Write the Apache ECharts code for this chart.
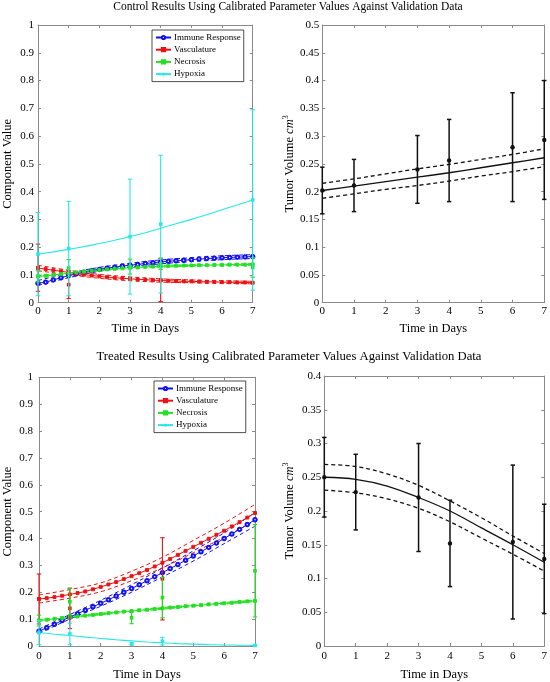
<!DOCTYPE html>
<html><head><meta charset="utf-8">
<script src="https://cdn.jsdelivr.net/npm/echarts@6/dist/echarts.min.js"></script>
<style>html,body{margin:0;padding:0;background:#fff}#c{width:550px;height:682px}</style>
</head><body><div id="c"></div>
<script>
// ---------- DATA ----------
const titleControl = 'Control Results Using Calibrated Parameter Values Against Validation Data';
const titleTreated = 'Treated Results Using Calibrated Parameter Values Against Validation Data';
const legendNames = ['Immune Response', 'Vasculature', 'Necrosis', 'Hypoxia'];
const xTicks = [0, 1, 2, 3, 4, 5, 6, 7];

const fineDays = [0,0.25,0.5,0.75,1,1.25,1.5,1.75,2,2.25,2.5,2.75,3,3.25,3.5,3.75,4,4.25,4.5,4.75,5,5.25,5.5,5.75,6,6.25,6.5,6.75,7];
const halfDays = [0,0.5,1,1.5,2,2.5,3,3.5,4,4.5,5,5.5,6,6.5,7];
const dayGrid = [0,1,2,3,4,5,6,7];

// Control - component model curves
const ctrlImmune = [0.070,0.074,0.082,0.090,0.098,0.104,0.110,0.115,0.120,0.124,0.128,0.132,0.135,0.138,0.141,0.144,0.147,0.149,0.151,0.153,0.155,0.157,0.159,0.160,0.162,0.163,0.164,0.165,0.166];
const ctrlImmuneUp = [0.080,0.106,0.127,0.142,0.154,0.162,0.169,0.173];
const ctrlImmuneLo = [0.062,0.090,0.113,0.128,0.140,0.148,0.155,0.159];
const ctrlVasc = [0.125,0.121,0.117,0.113,0.109,0.105,0.101,0.098,0.095,0.092,0.090,0.088,0.086,0.084,0.083,0.081,0.080,0.079,0.078,0.077,0.077,0.076,0.075,0.075,0.074,0.074,0.073,0.073,0.072];
const ctrlVascUp = [0.135,0.117,0.102,0.093,0.086,0.082,0.079,0.077];
const ctrlVascLo = [0.115,0.101,0.088,0.079,0.074,0.072,0.070,0.068];
const ctrlNecr = [0.095,0.097,0.100,0.103,0.106,0.109,0.112,0.115,0.118,0.120,0.122,0.124,0.126,0.127,0.129,0.130,0.131,0.132,0.133,0.134,0.134,0.135,0.135,0.136,0.136,0.137,0.137,0.137,0.138];
const ctrlNecrUp = [0.098,0.109,0.121,0.129,0.134,0.137,0.139,0.141];
const ctrlNecrLo = [0.092,0.103,0.115,0.123,0.128,0.131,0.133,0.135];
const ctrlHypox = [0.175,0.183,0.192,0.202,0.213,0.225,0.238,0.252,0.268,0.284,0.300,0.317,0.335,0.352,0.370];

// Control - component data (mean, sd)
const ctrlVascDays = [0,1,4];
const ctrlVascMean = [0.126,0.065,0.082];
const ctrlVascSd = [0.085,0.050,0.078];
const ctrlNecrDays = [0,1,3,4,7];
const ctrlNecrMean = [0.095,0.125,0.130,0.140,0.127];
const ctrlNecrSd = [0.020,0.030,0.027,0.020,0.035];
const ctrlHypDays = [0,1,3,4,7];
const ctrlHypMean = [0.175,0.195,0.238,0.283,0.370];
const ctrlHypSd = [0.150,0.170,0.207,0.248,0.325];

// Control - tumor volume
const ctrlVolFit = [0.202,0.210,0.218,0.226,0.234,0.243,0.252,0.261];
const ctrlVolUp = [0.215,0.223,0.232,0.241,0.249,0.258,0.267,0.277];
const ctrlVolLo = [0.188,0.196,0.204,0.211,0.219,0.228,0.236,0.245];
const ctrlVolDays = [0,1,3,4,6,7];
const ctrlVolMean = [0.202,0.211,0.240,0.256,0.280,0.293];
const ctrlVolSd = [0.042,0.047,0.061,0.074,0.098,0.107];

// Treated - component model curves
const trImmune = [0.055,0.068,0.081,0.095,0.108,0.120,0.133,0.146,0.159,0.172,0.186,0.200,0.214,0.228,0.243,0.258,0.273,0.288,0.303,0.319,0.335,0.351,0.367,0.383,0.400,0.417,0.434,0.452,0.470];
const trImmuneUp = [0.063,0.117,0.170,0.228,0.290,0.354,0.421,0.497];
const trImmuneLo = [0.047,0.100,0.148,0.200,0.257,0.316,0.381,0.446];
const trVasc = [0.175,0.178,0.182,0.187,0.192,0.197,0.203,0.211,0.220,0.229,0.238,0.249,0.260,0.271,0.283,0.296,0.310,0.324,0.339,0.354,0.369,0.384,0.399,0.414,0.429,0.445,0.461,0.478,0.495];
const trVascUp = [0.190,0.210,0.235,0.278,0.330,0.393,0.457,0.527];
const trVascLo = [0.160,0.178,0.202,0.243,0.291,0.347,0.405,0.466];
const trNecr = [0.095,0.098,0.101,0.104,0.107,0.110,0.113,0.116,0.119,0.122,0.125,0.128,0.130,0.133,0.135,0.138,0.140,0.143,0.145,0.148,0.150,0.152,0.155,0.157,0.159,0.161,0.164,0.166,0.168];
const trNecrUp = [0.098,0.110,0.122,0.133,0.143,0.153,0.162,0.171];
const trNecrLo = [0.092,0.104,0.116,0.127,0.137,0.147,0.156,0.165];
const trHypox = [0.050,0.044,0.039,0.033,0.028,0.023,0.019,0.015,0.012,0.009,0.007,0.005,0.004,0.003,0.002];

// Treated - component data
const trVascDays = [0,1,4];
const trVascMean = [0.175,0.140,0.250];
const trVascSd = [0.093,0.075,0.153];
const trNecrDays = [0,1,3,4,7];
const trNecrMean = [0.095,0.165,0.105,0.180,0.280];
const trNecrSd = [0.020,0.050,0.022,0.075,0.172];
const trHypDays = [0,1,3,4,7];
const trHypMean = [0.050,0.045,0.008,0.018,0.002];
const trHypSd = [0.045,0.040,0.004,0.014,0.002];

// Treated - tumor volume
const trVolFit = [0.250,0.247,0.237,0.220,0.200,0.175,0.150,0.124];
const trVolUp = [0.269,0.266,0.255,0.238,0.215,0.190,0.163,0.137];
const trVolLo = [0.231,0.227,0.218,0.204,0.184,0.160,0.136,0.111];
const trVolDays = [0,1,3,4,6,7];
const trVolMean = [0.250,0.228,0.220,0.152,0.154,0.129];
const trVolSd = [0.059,0.056,0.080,0.064,0.114,0.081];

// ---------- STYLE ----------
const FONT = '"Liberation Serif", "DejaVu Serif", serif';
const C_BLUE = '#1010f0', C_RED = '#ee1111', C_GREEN = '#22e022', C_CYAN = '#2ae6e6', C_BLACK = '#111';
const AX = '#8a8a8a';

const grids = [
  {left: 30.7, top: 25, width: 222, height: 277.7},
  {left: 322.3, top: 25, width: 222, height: 277.7},
  {left: 32.3, top: 377.3, width: 222.7, height: 276},
  {left: 324.3, top: 376, width: 223.4, height: 277.3}
];
const yCfg = [
  {max: 1, interval: 0.1, name: 'Component Value', gap: 24, margin: 4},
  {max: 0.5, interval: 0.05, name: '{t|Tumor Volume }{i|cm}{s|3}', gap: 26, margin: 3},
  {max: 1, interval: 0.1, name: 'Component Value', gap: 25, margin: 6},
  {max: 0.4, interval: 0.05, name: '{t|Tumor Volume }{i|cm}{s|3}', gap: 28, margin: 3}
];
const xCfg = [
  {labelMargin: 3, nameGap: 20},
  {labelMargin: 3, nameGap: 20},
  {labelMargin: 5, nameGap: 22},
  {labelMargin: 5, nameGap: 22}
];

const xAxes = [], yAxes = [];
grids.forEach((g, i) => {
  const base = {
    type: 'value', gridIndex: i, min: xTicks[0], max: xTicks[xTicks.length - 1], interval: 1,
    axisLine: {show: true, onZero: false, lineStyle: {color: AX, width: 1}},
    axisTick: {show: true, inside: true, length: 3, lineStyle: {color: AX}},
    splitLine: {show: false}
  };
  xAxes.push(Object.assign({}, base, {
    position: 'bottom', name: 'Time in Days', nameLocation: 'middle', nameGap: xCfg[i].nameGap,
    nameTextStyle: {fontFamily: FONT, fontSize: 12.5, color: '#000'},
    axisLabel: {show: true, margin: xCfg[i].labelMargin, fontFamily: FONT, fontSize: 11, color: '#000'}
  }));
  xAxes.push(Object.assign({}, base, {position: 'top', axisLabel: {show: false}}));
  const yb = {
    type: 'value', gridIndex: i, min: 0, max: yCfg[i].max, interval: yCfg[i].interval,
    axisLine: {show: true, onZero: false, lineStyle: {color: AX, width: 1}},
    axisTick: {show: true, inside: true, length: 3, lineStyle: {color: AX}},
    splitLine: {show: false}
  };
  yAxes.push(Object.assign({}, yb, {
    position: 'left', name: yCfg[i].name, nameLocation: 'middle', nameGap: yCfg[i].gap,
    nameTextStyle: {fontFamily: FONT, fontSize: 12.5, color: '#000',
      rich: {t: {fontFamily: FONT, fontSize: 12.5, color: '#000'},
             i: {fontFamily: FONT, fontSize: 12.5, fontStyle: 'italic', color: '#000'},
             s: {fontFamily: FONT, fontSize: 8, color: '#000', verticalAlign: 'top', lineHeight: 14}}},
    axisLabel: {show: true, margin: yCfg[i].margin, fontFamily: FONT, fontSize: 11, color: '#000'}
  }));
  yAxes.push(Object.assign({}, yb, {position: 'right', axisLabel: {show: false}}));
});

function pairs(days, vals) { return days.map((d, k) => [d, vals[k]]); }

function curve(g, name, days, vals, color, symbol, size, z) {
  return {
    type: 'line', name, xAxisIndex: 2 * g, yAxisIndex: 2 * g, data: pairs(days, vals),
    symbol, symbolSize: size, showSymbol: symbol !== 'none', smooth: false,
    lineStyle: {color, width: 1}, itemStyle: {color, borderColor: color, borderWidth: 0.9},
    emphasis: {disabled: true}, animation: false, z: z || 2
  };
}
function band(g, name, vals, color, width) {
  return {
    type: 'line', name, xAxisIndex: 2 * g, yAxisIndex: 2 * g, data: pairs(dayGrid, vals),
    symbol: 'none', smooth: 0.35,
    lineStyle: {color, width: width || 1, type: [4, 3]},
    emphasis: {disabled: true}, animation: false, z: 1
  };
}
function smoothCurve(g, name, days, vals, color, width) {
  return {
    type: 'line', name, xAxisIndex: 2 * g, yAxisIndex: 2 * g, data: pairs(days, vals),
    symbol: 'none', smooth: 0.35, lineStyle: {color, width: width || 1.1},
    itemStyle: {color}, emphasis: {disabled: true}, animation: false, z: 2
  };
}
function errBars(g, name, days, mean, sd, color, opt) {
  return {
    type: 'custom', name, xAxisIndex: 2 * g, yAxisIndex: 2 * g, clip: false, z: 4,
    data: days.map((d, k) => [d, mean[k], sd[k]]),
    encode: {x: 0, y: 1},
    animation: false,
    renderItem: (params, api) => {
      const x = api.value(0), m = api.value(1), s = api.value(2);
      const p0 = api.coord([x, m - s]), p1 = api.coord([x, m + s]), pm = api.coord([x, m]);
      const w = opt.cap, st = {stroke: color, lineWidth: opt.lw, fill: null};
      const ch = [
        {type: 'line', shape: {x1: p0[0], y1: p0[1], x2: p1[0], y2: p1[1]}, style: st},
        {type: 'line', shape: {x1: p0[0] - w, y1: p0[1], x2: p0[0] + w, y2: p0[1]}, style: st},
        {type: 'line', shape: {x1: p1[0] - w, y1: p1[1], x2: p1[0] + w, y2: p1[1]}, style: st}
      ];
      if (opt.shape === 'circle') ch.push({type: 'circle', shape: {cx: pm[0], cy: pm[1], r: opt.size}, style: {fill: color}});
      else ch.push({type: 'rect', shape: {x: pm[0] - opt.size, y: pm[1] - opt.size, width: 2 * opt.size, height: 2 * opt.size}, style: {fill: color}});
      return {type: 'group', children: ch};
    }
  };
}

const colOpt = {cap: 2.2, lw: 1.1, shape: 'rect', size: 1.8};
const volOpt = {cap: 2.2, lw: 1.5, shape: 'circle', size: 2.2};

const series = [
  // Control components (grid 0)
  band(0, 'ctrl immune up', ctrlImmuneUp, C_BLUE), band(0, 'ctrl immune lo', ctrlImmuneLo, C_BLUE),
  band(0, 'ctrl vasc up', ctrlVascUp, C_RED), band(0, 'ctrl vasc lo', ctrlVascLo, C_RED),
  band(0, 'ctrl necr up', ctrlNecrUp, C_GREEN), band(0, 'ctrl necr lo', ctrlNecrLo, C_GREEN),
  curve(0, 'Immune Response', fineDays, ctrlImmune, C_BLUE, 'emptyCircle', 3.5, 3),
  curve(0, 'Vasculature', fineDays, ctrlVasc, C_RED, 'rect', 3, 3),
  curve(0, 'Necrosis', fineDays, ctrlNecr, C_GREEN, 'rect', 3, 3),
  smoothCurve(0, 'Hypoxia', halfDays, ctrlHypox, C_CYAN),
  errBars(0, 'ctrl vasc data', ctrlVascDays, ctrlVascMean, ctrlVascSd, C_RED, colOpt),
  errBars(0, 'ctrl necr data', ctrlNecrDays, ctrlNecrMean, ctrlNecrSd, C_GREEN, colOpt),
  errBars(0, 'ctrl hyp data', ctrlHypDays, ctrlHypMean, ctrlHypSd, C_CYAN, colOpt),
  // Control volume (grid 1)
  band(1, 'ctrl vol up', ctrlVolUp, C_BLACK, 1.3), band(1, 'ctrl vol lo', ctrlVolLo, C_BLACK, 1.3),
  smoothCurve(1, 'ctrl vol fit', dayGrid, ctrlVolFit, C_BLACK, 1.3),
  errBars(1, 'ctrl vol data', ctrlVolDays, ctrlVolMean, ctrlVolSd, C_BLACK, volOpt),
  // Treated components (grid 2)
  band(2, 'tr immune up', trImmuneUp, C_BLUE), band(2, 'tr immune lo', trImmuneLo, C_BLUE),
  band(2, 'tr vasc up', trVascUp, C_RED), band(2, 'tr vasc lo', trVascLo, C_RED),
  band(2, 'tr necr up', trNecrUp, C_GREEN), band(2, 'tr necr lo', trNecrLo, C_GREEN),
  curve(2, 'Immune Response', fineDays, trImmune, C_BLUE, 'emptyCircle', 3.5, 3),
  curve(2, 'Vasculature', fineDays, trVasc, C_RED, 'rect', 3, 3),
  curve(2, 'Necrosis', fineDays, trNecr, C_GREEN, 'rect', 3, 3),
  smoothCurve(2, 'Hypoxia', halfDays, trHypox, C_CYAN),
  errBars(2, 'tr vasc data', trVascDays, trVascMean, trVascSd, C_RED, colOpt),
  errBars(2, 'tr necr data', trNecrDays, trNecrMean, trNecrSd, C_GREEN, colOpt),
  errBars(2, 'tr hyp data', trHypDays, trHypMean, trHypSd, C_CYAN, colOpt),
  // Treated volume (grid 3)
  band(3, 'tr vol up', trVolUp, C_BLACK, 1.3), band(3, 'tr vol lo', trVolLo, C_BLACK, 1.3),
  smoothCurve(3, 'tr vol fit', dayGrid, trVolFit, C_BLACK, 1.3),
  errBars(3, 'tr vol data', trVolDays, trVolMean, trVolSd, C_BLACK, volOpt)
];

const legendBase = {
  orient: 'vertical', data: legendNames, selectedMode: false,
  itemWidth: 15, itemHeight: 4, itemGap: 3.2, padding: [3, 3, 3, 3],
  borderColor: '#222', borderWidth: 0.8, borderRadius: 0, backgroundColor: '#fff',
  textStyle: {fontFamily: FONT, fontSize: 9, color: '#000', padding: [0, 0, 0, -2]}
};

const option = {
  backgroundColor: '#fff',
  animation: false,
  grid: grids.map(g => Object.assign({containLabel: false, show: false}, g)),
  xAxis: xAxes,
  yAxis: yAxes,
  legend: [
    Object.assign({left: 152, top: 30}, legendBase),
    Object.assign({left: 154, top: 381}, legendBase)
  ],
  graphic: [
    {type: 'text', x: 288, y: 1, style: {text: titleControl, textAlign: 'center', textVerticalAlign: 'top', fontFamily: FONT, fontSize: 11.5, fill: '#000'}},
    {type: 'text', x: 289, y: 350, style: {text: titleTreated, textAlign: 'center', textVerticalAlign: 'top', fontFamily: FONT, fontSize: 12.7, fill: '#000'}}
  ],
  series
};

const chart = echarts.init(document.getElementById('c'), null, {renderer: 'canvas'});
chart.setOption(option);
</script></body></html>
